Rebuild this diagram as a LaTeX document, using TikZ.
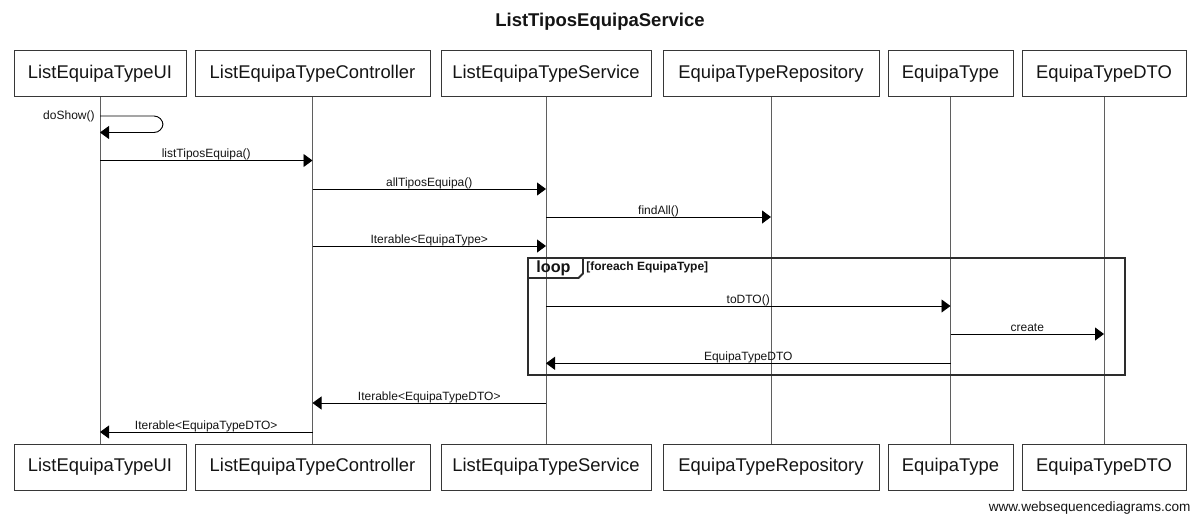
\documentclass[tikz,border=0pt]{standalone}
\usepackage{fontspec}
\setmainfont{Liberation Sans}
\usetikzlibrary{arrows.meta}
\definecolor{linecol}{RGB}{95,95,95}
\definecolor{boxcol}{RGB}{55,55,55}
\definecolor{framecol}{RGB}{45,45,45}
\definecolor{txtcol}{RGB}{20,20,20}
\begin{document}
\begin{tikzpicture}[x=0.5pt,y=-0.5pt,
  part/.style={draw=boxcol, line width=0.5pt, minimum height=23pt, inner sep=0pt,
    font=\fontsize{9.2}{11}\selectfont, text=txtcol},
  life/.style={draw=linecol, line width=0.45pt},
  msg/.style={draw=black, line width=0.45pt, -{Triangle[length=4.5pt,width=6.5pt]}},
  lbl/.style={font=\fontsize{6}{7}\selectfont, inner sep=0pt, text=txtcol},
  onlbl/.style={lbl, midway, anchor=base, yshift=1.5pt},
  frame/.style={draw=framecol, line width=0.9pt}]
\useasboundingbox (0,0) rectangle (1200,521);

% title
\node[font=\bfseries\fontsize{9.25}{11}\selectfont, text=txtcol] (title) at (600,21.5) {ListTiposEquipaService};

% participants (top)
\node[part, minimum width=86pt]   (ui)   at (100,73.75)  {ListEquipaTypeUI};
\node[part, minimum width=117.5pt] (ctl) at (312.5,73.75) {ListEquipaTypeController};
\node[part, minimum width=105pt]  (svc)  at (546,73.75)  {ListEquipaTypeService};
\node[part, minimum width=108pt]  (rep)  at (771,73.75)  {EquipaTypeRepository};
\node[part, minimum width=62.5pt] (ent)  at (950.5,73.75) {EquipaType};
\node[part, minimum width=82pt]   (dto)  at (1104,73.75) {EquipaTypeDTO};

% participants (bottom)
\node[part, minimum width=86pt]   (uib)  at (100,467)  {ListEquipaTypeUI};
\node[part, minimum width=117.5pt] (ctlb) at (312.5,467) {ListEquipaTypeController};
\node[part, minimum width=105pt]  (svcb) at (546,467)  {ListEquipaTypeService};
\node[part, minimum width=108pt]  (repb) at (771,467)  {EquipaTypeRepository};
\node[part, minimum width=62.5pt] (entb) at (950.5,467) {EquipaType};
\node[part, minimum width=82pt]   (dtob) at (1104,467) {EquipaTypeDTO};

% lifelines
\draw[life] (ui.south) -- (uib.north);
\draw[life] (ctl.south) -- (ctlb.north);
\draw[life] (svc.south) -- (svcb.north);
\draw[life] (rep.south) -- (repb.north);
\draw[life] (ent.south) -- (entb.north);
\draw[life] (dto.south) -- (dtob.north);

% message rows
\coordinate (r0)  at (0,116);
\coordinate (r0b) at (0,132.5);
\coordinate (r1)  at (0,160.5);
\coordinate (r2)  at (0,189);
\coordinate (r3)  at (0,217);
\coordinate (r4)  at (0,246);
\coordinate (r5)  at (0,306);
\coordinate (r6)  at (0,334);
\coordinate (r7)  at (0,363.3);
\coordinate (r8)  at (0,403);
\coordinate (r9)  at (0,432);

% doShow self message
\draw[msg, rounded corners=4.5pt] (ui |- r0) -- ++(63,0) -- ++(0,16.5) -- (ui |- r0b);
\node[lbl, anchor=east] (ldo) at ([xshift=-2.5pt]ui |- r0) {doShow()};

\draw[msg] (ui |- r1)  -- node[onlbl] {listTiposEquipa()} (ctl |- r1);
\draw[msg] (ctl |- r2) -- node[onlbl] {allTiposEquipa()} (svc |- r2);
\draw[msg] (svc |- r3) -- node[onlbl] {findAll()} (rep |- r3);
\draw[msg] (ctl |- r4) -- node[onlbl] {Iterable<EquipaType>} (svc |- r4);

% loop frame
\coordinate (fa) at (528,258);
\coordinate (fb) at (1125,375);
\draw[frame] (fa) rectangle (fb);
\draw[frame] (528,278) -- (578.5,278) -- (583,273.5) -- (583,258);
\node[font=\bfseries\fontsize{8.1}{9}\selectfont, inner sep=0pt, anchor=base, text=txtcol] (loopl) at (553.5,272) {loop};
\node[font=\bfseries\fontsize{6}{7}\selectfont, inner sep=0pt, anchor=base west, text=txtcol] (guard) at (586,270) {[foreach EquipaType]};

\draw[msg] (svc |- r5) -- node[onlbl] {toDTO()} (ent |- r5);
\draw[msg] (ent |- r6) -- node[onlbl] {create} (dto |- r6);
\draw[msg] (ent |- r7) -- node[onlbl] {EquipaTypeDTO} (svc |- r7);

\draw[msg] (svc |- r8) -- node[onlbl] {Iterable<EquipaTypeDTO>} (ctl |- r8);
\draw[msg] (ctl |- r9) -- node[onlbl] {Iterable<EquipaTypeDTO>} (ui |- r9);

% footer
\node[font=\fontsize{6.8}{8}\selectfont, inner sep=0pt, anchor=base east, text=txtcol] (foot) at (1191,511.5) {www.websequencediagrams.com};
\end{tikzpicture}
\end{document}
